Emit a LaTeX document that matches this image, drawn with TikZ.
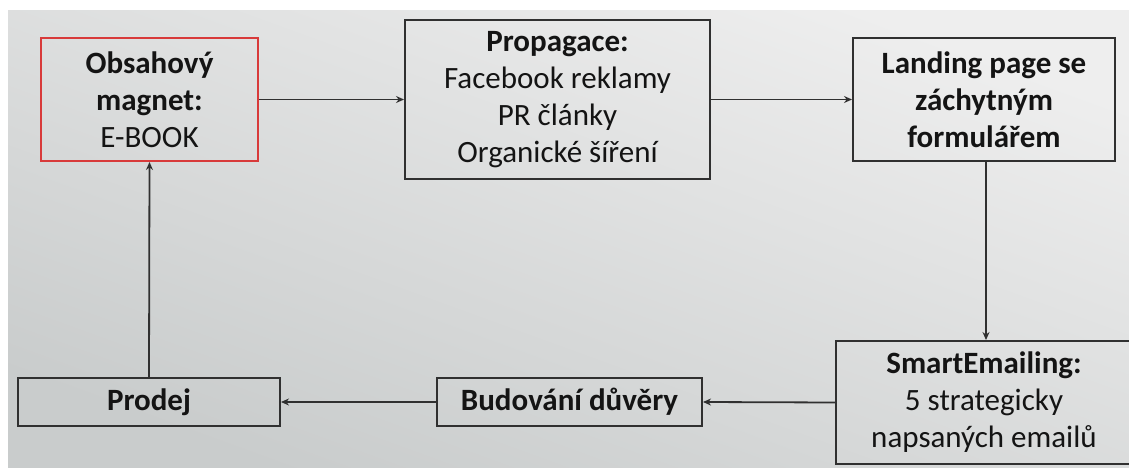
\documentclass[tikz,border=0pt]{standalone}
\usepackage{fontspec}
\setmainfont{Carlito}
\usetikzlibrary{arrows.meta,calc}
\definecolor{boxline}{HTML}{303030}
\definecolor{redline}{HTML}{D83A3A}
\definecolor{txt}{HTML}{141414}
\definecolor{bgA}{HTML}{EEEEEE}
\definecolor{bgB}{HTML}{C9CCCC}
\begin{document}
\begin{tikzpicture}[x=1pt,y=-1pt,
  stepbox/.style={draw=boxline,line width=2pt,rectangle,inner sep=0pt,align=center,
    text=txt,font=\fontsize{31}{37}\selectfont},
  conn/.style={draw=boxline,line width=1.8pt,-{Stealth[length=8pt,width=7pt]}}]
\useasboundingbox (0,0) rectangle (1129,468);
\begin{scope}
\clip (0,0) rectangle (1129,468);
\fill[white] (0,0) rectangle (1129,468);
\shade[shading=axis,top color=bgA,bottom color=bgB,shading angle=-20] (8,11) rectangle (1129,468);
\node[stepbox,draw=redline,minimum width=217pt,minimum height=123pt] (obs) at (149.5,99.5)
  {\textbf{Obsahový}\\\textbf{magnet:}\\E-BOOK};
\node[stepbox,minimum width=305pt,minimum height=159pt] (prop) at (557.5,99.5)
  {\textbf{Propagace:}\\Facebook reklamy\\PR články\\Organické šíření};
\node[stepbox,minimum width=262pt,minimum height=123pt] (land) at (984,99.5)
  {\textbf{Landing page se}\\\textbf{záchytným}\\\textbf{formulářem}};
\node[stepbox,minimum width=296pt,minimum height=123pt] (smart) at (984,402.5)
  {\textbf{SmartEmailing:}\\5 strategicky\\napsaných emailů};
\node[stepbox,minimum width=265pt,minimum height=48pt] (bud) at (569.5,402)
  {\textbf{Budování důvěry}};
\node[stepbox,minimum width=262pt,minimum height=48pt] (prod) at (149,402)
  {\textbf{Prodej}};
\draw[conn] (obs.east) -- (prop.west);
\draw[conn] (prop.east) -- (land.west);
\draw[conn] ($(land.south)+(2,0)$) -- ($(land.south |- smart.north)+(2,0)$);
\draw[conn] (smart.west) -- (bud.east);
\draw[conn] (bud.west) -- (prod.east);
\draw[conn] (prod.north) -- (obs.south);
\end{scope}
\end{tikzpicture}
\end{document}
